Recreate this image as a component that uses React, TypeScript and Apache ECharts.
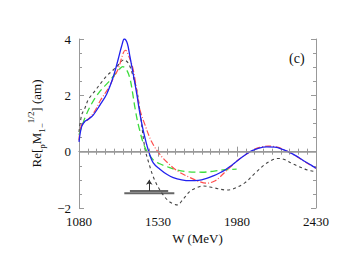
import React, { useEffect, useRef } from "react";
import * as echarts from "echarts";

// W (MeV) / Re values
const blueW = [1080, 1095, 1114, 1133, 1161, 1200, 1238, 1275, 1304, 1323, 1338, 1355, 1370, 1389, 1409, 1427, 1446, 1475, 1503, 1541, 1580, 1617, 1665, 1712, 1760, 1807, 1845, 1883, 1912, 1940, 1980, 2026, 2060, 2101, 2150, 2196, 2240, 2291, 2330, 2367, 2400, 2430];
const blueV = [0.35, 0.89, 1.08, 1.15, 1.3, 1.66, 2.05, 2.65, 3.3, 3.75, 4.0, 3.85, 3.38, 2.75, 2.05, 1.35, 0.75, 0.05, -0.4, -0.62, -0.8, -0.92, -1.0, -1.03, -1.02, -0.95, -0.86, -0.75, -0.65, -0.53, -0.33, -0.12, 0.02, 0.12, 0.17, 0.16, 0.08, -0.06, -0.2, -0.35, -0.47, -0.59];

const redW = [1080, 1095, 1133, 1171, 1200, 1247, 1275, 1304, 1332, 1345, 1360, 1389, 1427, 1456, 1494, 1541, 1598, 1650, 1712, 1760, 1807, 1850, 1883, 1912, 1950, 1990, 2026, 2070, 2110, 2157, 2215, 2260, 2291, 2340, 2390, 2430];
const redV = [0.4, 0.95, 1.15, 1.45, 1.8, 2.25, 2.6, 2.95, 3.5, 3.6, 3.45, 2.9, 1.5, 0.95, 0.35, -0.1, -0.47, -0.72, -0.92, -1.05, -1.12, -1.05, -0.9, -0.72, -0.5, -0.28, -0.12, 0.05, 0.15, 0.2, 0.15, 0.03, -0.06, -0.25, -0.45, -0.59];

const greenW = [1080, 1114, 1152, 1200, 1245, 1285, 1310, 1329, 1350, 1370, 1385, 1399, 1420, 1456, 1503, 1540, 1580, 1630, 1693, 1780, 1850, 1900, 1940, 1978];
const greenV = [0.6, 1.2, 1.7, 2.15, 2.45, 2.75, 2.93, 3.02, 2.92, 2.6, 2.1, 1.55, 0.9, 0.15, -0.29, -0.43, -0.53, -0.64, -0.71, -0.73, -0.69, -0.65, -0.63, -0.62];

const blackW = [1080, 1095, 1114, 1133, 1170, 1200, 1240, 1275, 1300, 1335, 1360, 1380, 1409, 1430, 1456, 1480, 1503, 1530, 1560, 1590, 1617, 1640, 1674, 1710, 1750, 1788, 1845, 1921, 1960, 2026, 2080, 2139, 2180, 2215, 2250, 2291, 2330, 2367, 2400, 2430];
const blackV = [0.7, 1.3, 1.55, 1.85, 2.15, 2.4, 2.7, 2.9, 3.05, 3.26, 3.15, 2.84, 2.19, 1.3, 0.1, -0.45, -0.89, -1.25, -1.54, -1.75, -1.85, -1.89, -1.68, -1.42, -1.28, -1.22, -1.28, -1.36, -1.32, -1.1, -0.78, -0.45, -0.3, -0.24, -0.28, -0.41, -0.52, -0.62, -0.68, -0.71];

// annotation bars (W range, level) and arrow
const barUpperW = [1370, 1588];
const barUpperV = -1.395;
const barLowerW = [1338, 1623];
const barLowerV = -1.48;
const arrowW = 1480;
const arrowV = [-1.395, -1.0];

const xTicks = [1080, 1530, 1980, 2430];
const yTicks = [-2, 0, 2, 4];

const zip = (w: number[], v: number[]) => w.map((x, i) => [x, v[i]]);

export default function App() {
  const ref = useRef<HTMLDivElement>(null);
  useEffect(() => {
    if (!ref.current) return;
    const chart = echarts.init(ref.current, null, { renderer: "svg" });
    const serif = "Liberation Serif";
    const axisCol = "#999";
    const commonX = {
      type: "value",
      min: xTicks[0],
      max: xTicks[xTicks.length - 1],
      interval: xTicks[1] - xTicks[0],
      splitLine: { show: false },
      axisLine: { lineStyle: { color: axisCol, width: 1 } },
      axisTick: { inside: true, length: 5, lineStyle: { color: axisCol } },
      minorTick: { show: true, splitNumber: 9, length: 3, lineStyle: { color: axisCol } },
    };
    const commonY = {
      type: "value",
      min: yTicks[0],
      max: yTicks[yTicks.length - 1],
      interval: yTicks[1] - yTicks[0],
      splitLine: { show: false },
      axisLine: { lineStyle: { color: axisCol, width: 1 } },
      axisTick: { inside: true, length: 5, lineStyle: { color: axisCol } },
      minorTick: { show: true, splitNumber: 4, length: 3, lineStyle: { color: axisCol } },
    };
    chart.setOption({
      animation: false,
      backgroundColor: "#fff",
      grid: { left: 79, top: 39, right: 33, bottom: 62 },
      xAxis: [
        {
          ...commonX,
          position: "bottom",
          axisLabel: {
            color: "#111",
            fontFamily: serif,
            fontSize: 13,
            margin: 7,
            lineHeight: 12,
            formatter: (v: number) => String(v),
          },
          name: "W (MeV)",
          nameLocation: "middle",
          nameGap: 17,
          nameTextStyle: { color: "#111", fontFamily: serif, fontSize: 13 },
        },
        { ...commonX, position: "top", axisLabel: { show: false } },
      ],
      yAxis: [
        {
          ...commonY,
          position: "left",
          axisLabel: {
            color: "#111",
            fontFamily: serif,
            fontSize: 13,
            margin: 8,
            lineHeight: 11,
            formatter: (v: number) => (v < 0 ? "−" + Math.abs(v) : String(v)),
          },
          name: "{a|Re[}{s|p}{a|M}{s|1−}{u|1/2}{a|] (am)}",
          nameLocation: "middle",
          nameGap: 27,
          nameRotate: 90,
          nameTextStyle: {
            color: "#111",
            fontFamily: serif,
            fontSize: 13,
            rich: {
              a: { fontFamily: serif, fontSize: 13, color: "#111", lineHeight: 20 },
              s: { fontFamily: serif, fontSize: 9, color: "#111", verticalAlign: "bottom", padding: [6, 0, 0, 0] },
              u: { fontFamily: serif, fontSize: 9, color: "#111", verticalAlign: "top", padding: [0, 0, 6, 0] },
            },
          },
        },
        { ...commonY, position: "right", axisLabel: { show: false } },
      ],
      graphic: [
        {
          type: "text",
          left: 289,
          top: 51,
          style: { text: "(c)", font: `14px ${serif}`, fill: "#111" },
        },
      ],
      series: [
        {
          type: "line",
          data: zip(barLowerW, [barLowerV, barLowerV]),
          symbol: "none",
          lineStyle: { color: "#666", width: 2 },
          silent: true,
          z: 1,
        },
        {
          type: "line",
          data: zip(barUpperW, [barUpperV, barUpperV]),
          symbol: "none",
          lineStyle: { color: "#666", width: 2 },
          silent: true,
          z: 1,
          markLine: {
            silent: true,
            symbol: ["none", "arrow"],
            symbolSize: 5,
            label: { show: false },
            lineStyle: { color: "#333", width: 1, type: "solid" },
            data: [[{ coord: [arrowW, arrowV[0]] }, { coord: [arrowW, arrowV[1]] }]],
          },
        },
        {
          type: "line",
          data: zip(blackW, blackV),
          symbol: "none",
          smooth: 0.35,
          lineStyle: { color: "#444", width: 1.1, type: [3, 3] },
          markLine: {
            silent: true,
            symbol: "none",
            label: { show: false },
            lineStyle: { color: "#999", width: 1.5, type: "solid" },
            data: [{ yAxis: 0 }],
          },
        },
        {
          type: "line",
          data: zip(greenW, greenV),
          symbol: "none",
          smooth: 0.35,
          lineStyle: { color: "#3ddc3d", width: 1.3, type: [7, 4] },
        },
        {
          type: "line",
          data: zip(redW, redV),
          symbol: "none",
          smooth: 0.35,
          lineStyle: { color: "#ff4d4d", width: 1.2, type: [6, 2, 1, 2] },
        },
        {
          type: "line",
          data: zip(blueW, blueV),
          symbol: "none",
          smooth: 0.35,
          lineStyle: { color: "#2222ee", width: 1.3 },
        },
      ],
    });
    return () => chart.dispose();
  }, []);
  return (
    <div
      ref={ref}
      style={{ position: "fixed", left: 0, top: 0, width: 349, height: 270, background: "#fff" }}
    />
  );
}
